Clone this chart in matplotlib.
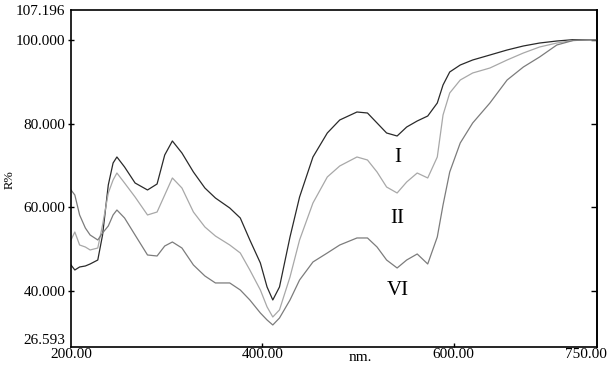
import matplotlib
matplotlib.use("Agg")
import matplotlib.pyplot as plt
import matplotlib.transforms as mtransforms

# wavelength grid (nm) and reflectance (R%)
wavelength = [200, 204, 209, 215, 220, 228, 233, 239, 244, 248, 256, 267, 280,
              290, 298, 306, 316, 328, 340, 351, 366, 377, 387, 398, 405, 411,
              418, 429, 439, 453, 468, 481, 499, 510, 520, 530, 541, 551, 562,
              573, 583, 589, 596, 607, 620, 638, 656, 673, 690, 708, 725, 750]

r_I = [46.21, 45.01, 45.73, 45.97, 46.45, 47.40, 53.38, 65.35, 70.60, 72.04,
       69.65, 65.82, 64.15, 65.58, 72.52, 75.87, 72.99, 68.45, 64.62, 62.23,
       59.84, 57.45, 52.19, 46.69, 40.95, 37.84, 40.95, 52.91, 62.47, 72.04,
       77.78, 80.89, 82.80, 82.56, 80.17, 77.78, 77.06, 79.21, 80.65, 81.84,
       84.95, 89.26, 92.37, 94.04, 95.24, 96.43, 97.63, 98.59, 99.30, 99.78,
       100.10, 100.10]

r_II = [52.19, 54.10, 50.99, 50.51, 49.80, 50.27, 55.78, 63.43, 66.54, 68.21,
        65.82, 62.47, 58.17, 58.88, 62.95, 67.02, 64.62, 58.88, 55.30, 53.14,
        50.99, 49.08, 45.01, 40.23, 36.19, 33.77, 35.47, 43.34, 52.19, 61.04,
        67.26, 69.89, 72.04, 71.32, 68.45, 64.86, 63.43, 66.06, 68.21, 67.02,
        72.04, 82.08, 87.35, 90.45, 92.13, 93.32, 95.24, 96.91, 98.35, 99.30,
        99.90, 100.10]

r_VI = [64.15, 62.95, 58.17, 55.06, 53.38, 52.19, 53.86, 55.54, 58.17, 59.36,
        57.45, 53.38, 48.60, 48.36, 50.75, 51.71, 50.27, 46.21, 43.58, 41.91,
        41.91, 40.23, 37.84, 34.73, 33.06, 31.86, 33.53, 37.84, 42.62, 46.93,
        49.08, 50.99, 52.67, 52.67, 50.51, 47.40, 45.49, 47.40, 48.84, 46.45,
        52.91, 60.56, 68.45, 75.39, 80.17, 84.95, 90.45, 93.56, 95.96, 98.83,
        99.90, 100.10]

y_ticks = [26.593, 40.0, 60.0, 80.0, 100.0, 107.196]
x_ticks = [200, 400, 600, 750]

fig = plt.figure(figsize=(6.15, 3.67), dpi=100)
ax = fig.add_axes([71 / 615, 20 / 367, 526 / 615, 337 / 367])

ax.plot(wavelength, r_I, color="#2a2a2a", linewidth=0.9)
ax.plot(wavelength, r_II, color="#a8a8a8", linewidth=0.9)
ax.plot(wavelength, r_VI, color="#7c7c7c", linewidth=0.9)

ax.set_xlim(200, 750)
ax.set_ylim(26.593, 107.196)

font = "Liberation Serif"
ax.set_yticks(y_ticks)
ax.set_yticklabels([f"{v:.3f}" for v in y_ticks], fontsize=11, family=font)
ax.set_xticks(x_ticks)
ax.set_xticklabels([f"{v:.2f}" for v in x_ticks], fontsize=11, family=font)

ax.tick_params(axis="y", direction="inout", length=4, width=1, pad=2)
ax.tick_params(axis="x", direction="in", length=3, width=1, pad=1)
for side in ["left", "right", "top", "bottom"]:
    ax.spines[side].set_linewidth(1.2)

# inward ticks on the right frame, no labels
sec = ax.secondary_yaxis("right")
sec.set_yticks([40, 60, 80, 100])
sec.set_yticklabels([])
sec.tick_params(direction="in", length=4, width=1)
sec.spines["right"].set_linewidth(1.2)

# first and last ticks sit on the frame, hide those marks
for t in [ax.yaxis.get_major_ticks()[0], ax.yaxis.get_major_ticks()[-1]]:
    t.tick1line.set_visible(False)
for t in [ax.xaxis.get_major_ticks()[0], ax.xaxis.get_major_ticks()[-1]]:
    t.tick1line.set_visible(False)

# bottom y label rests on the frame, last x label pulled inside the figure
ax.get_yticklabels()[0].set_verticalalignment("bottom")
last = ax.get_xticklabels()[-1]
last.set_transform(last.get_transform() +
                   mtransforms.ScaledTranslation(-8 / 72, 0, fig.dpi_scale_trans))

# "nm." sits in the tick label row
trans = mtransforms.blended_transform_factory(ax.transData, ax.transAxes)
ax.text(503, -0.012, "nm.", transform=trans, ha="center", va="top",
        fontsize=11, family=font)

fig.text(10 / 615, 1 - 180 / 367, "R%", rotation=90, ha="center",
         va="center", fontsize=9, family=font)

ax.text(542, 72.0, "I", ha="center", va="center", fontsize=15, family=font)
ax.text(541, 57.4, "II", ha="center", va="center", fontsize=15, family=font)
ax.text(542, 40.0, "VI", ha="center", va="center", fontsize=15, family=font)

fig.savefig("out.png", dpi=100)
